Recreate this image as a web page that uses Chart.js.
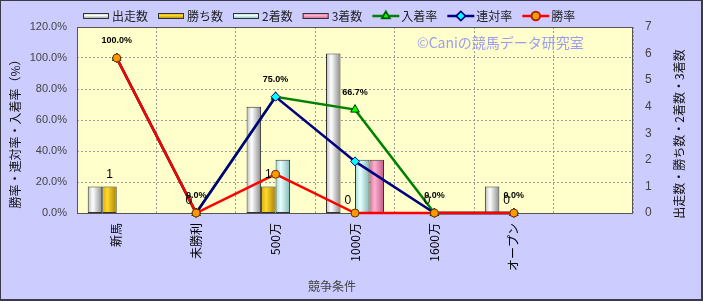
<!DOCTYPE html>
<html>
<head>
<meta charset="utf-8">
<script src="https://cdn.jsdelivr.net/npm/chart.js@4.4.1/dist/chart.umd.min.js"></script>
<style>
  html, body { margin: 0; padding: 0; background: #ccccff; }
  canvas { display: block; }
</style>
</head>
<body>
<canvas id="chart" width="703" height="301" style="width:703px;height:301px"></canvas>
<script>
// データ
const categories = ['新馬', '未勝利', '500万', '1000万', '1600万', 'オープン', ''];
const starts   = [1, 0, 4, 6, 0, 1, null];   // 出走数
const wins     = [1, 0, 1, 0, 0, 0, null];   // 勝ち数
const seconds  = [0, 0, 2, 2, 0, 0, null];   // 2着数
const thirds   = [0, 0, 0, 2, 0, 0, null];   // 3着数
const placeRate  = [100, 0, 75, 66.7, 0, 0, null]; // 入着率
const rentaiRate = [100, 0, 75, 33.3, 0, 0, null]; // 連対率
const winRate    = [100, 0, 25, 0, 0, 0, null];    // 勝率
const rateTicks  = [0, 20, 40, 60, 80, 100, 120];
const countTicks = [0, 1, 2, 3, 4, 5, 6, 7];

const FONT = '"Liberation Sans", "Noto Sans CJK JP", sans-serif';
const JFONT = '"Noto Sans CJK JP", "Liberation Sans", sans-serif';
const GROUP = 0.73;

const barStops = [
  ['#b8b8b8', '#ffffff', '#8a8a8a'],
  ['#d9a900', '#ffd92e', '#a88200'],
  ['#9fd6d6', '#e8ffff', '#80b8b8'],
  ['#d9709e', '#ffb0d0', '#c05a8a']
];

// 円柱っぽい横グラデーション
function cylinder(c, k) {
  const s = barStops[k];
  const chart = c.chart;
  const xs = chart.scales.x;
  if (!xs || c.dataIndex == null || !xs.width) return s[1];
  const catW = xs.width / categories.length;
  const bw = catW * GROUP / 4;
  const x0 = xs.getPixelForValue(c.dataIndex) - catW * GROUP / 2 + k * bw;
  const g = chart.ctx.createLinearGradient(x0, 0, x0 + bw, 0);
  g.addColorStop(0, s[0]);
  g.addColorStop(0.35, s[1]);
  g.addColorStop(1, s[2]);
  return g;
}

function barSet(label, data, k) {
  return {
    type: 'bar', label, data, yAxisID: 'y2', order: 10,
    backgroundColor: c => cylinder(c, k),
    borderColor: '#333',
    borderWidth: c => (c.raw ? 1 : 0),
    borderSkipped: false,
    barPercentage: 1, categoryPercentage: GROUP
  };
}

function lineSet(label, data, color, style, radius, fill, edge, order) {
  return {
    type: 'line', label, data, yAxisID: 'y', order,
    borderColor: color, borderWidth: 2.5, tension: 0, clip: false,
    pointStyle: style, pointRadius: radius, pointBackgroundColor: fill,
    pointBorderColor: edge, pointBorderWidth: 1
  };
}

const legendItems = [
  { label: '出走数', bar: 0 },
  { label: '勝ち数', bar: 1 },
  { label: '2着数', bar: 2 },
  { label: '3着数', bar: 3 },
  { label: '入着率', line: '#008000', style: 'triangle', fill: '#00ff00', edge: '#003300' },
  { label: '連対率', line: '#000080', style: 'rectRot', fill: '#00ffff', edge: '#000080' },
  { label: '勝率', line: '#ff0000', style: 'circle', fill: '#ff9900', edge: '#663300' }
];

const decor = {
  id: 'decor',
  beforeDraw(chart) {
    const { ctx, chartArea: a } = chart;
    ctx.save();
    ctx.fillStyle = '#ccccff';
    ctx.fillRect(0, 0, chart.width, chart.height);
    ctx.fillStyle = '#ffffcc';
    ctx.fillRect(a.left, a.top, a.right - a.left, a.bottom - a.top);
    ctx.restore();
  },
  beforeDatasetsDraw(chart) {
    const { ctx, chartArea: a } = chart;
    ctx.save();
    ctx.strokeStyle = '#555';
    ctx.lineWidth = 1;
    ctx.strokeRect(Math.round(a.left) + 0.5, Math.round(a.top) + 0.5,
      Math.round(a.right - a.left) - 1, Math.round(a.bottom - a.top));
    // 透かし
    ctx.fillStyle = '#9d9df0';
    ctx.font = '14px ' + JFONT;
    ctx.textAlign = 'left';
    ctx.textBaseline = 'middle';
    ctx.fillText('©Caniの競馬データ研究室', 417, 43);
    ctx.restore();
  },
  afterDatasetsDraw(chart) {
    const ctx = chart.ctx;
    ctx.save();
    ctx.fillStyle = '#000';
    ctx.textAlign = 'center';
    ctx.textBaseline = 'middle';
    const mw = chart.getDatasetMeta(1);
    ctx.font = '12px ' + FONT;
    wins.forEach((v, i) => {
      if (v == null) return;
      const el = mw.data[i];
      ctx.fillText(String(v), el.x, el.y - 12);
    });
    const mp = chart.getDatasetMeta(4);
    ctx.font = 'bold 9px ' + FONT;
    placeRate.forEach((v, i) => {
      if (v == null) return;
      const el = mp.data[i];
      ctx.fillText(v.toFixed(1) + '%', el.x, el.y - 17);
    });
    ctx.restore();
  },
  afterDraw(chart) {
    const ctx = chart.ctx;
    const W = chart.width, H = chart.height;
    ctx.save();
    // 軸タイトル
    ctx.fillStyle = '#111';
    ctx.font = '12px ' + JFONT;
    ctx.textAlign = 'center';
    ctx.textBaseline = 'middle';
    ctx.save();
    ctx.translate(15, 131);
    ctx.rotate(-Math.PI / 2);
    ctx.fillText('勝率・連対率・入着率（%）', 0, 0);
    ctx.restore();
    ctx.save();
    ctx.translate(679, 134);
    ctx.rotate(-Math.PI / 2);
    ctx.fillText('出走数・勝ち数・2着数・3着数', 0, 0);
    ctx.restore();
    ctx.fillStyle = '#444';
    ctx.fillText('競争条件', 332, 286);

    // 凡例
    ctx.font = '12px ' + JFONT;
    ctx.textAlign = 'left';
    let x = 83;
    const y = 16;
    legendItems.forEach(it => {
      if (it.bar != null) {
        const s = barStops[it.bar];
        const g = ctx.createLinearGradient(0, y - 3, 0, y + 3);
        g.addColorStop(0, s[0]); g.addColorStop(0.4, s[1]); g.addColorStop(1, s[2]);
        ctx.fillStyle = g;
        ctx.fillRect(x, y - 3, 26, 6);
        ctx.strokeStyle = '#333';
        ctx.lineWidth = 1;
        ctx.strokeRect(x + 0.5, y - 2.5, 25, 5);
      } else {
        ctx.strokeStyle = it.line;
        ctx.lineWidth = 2.5;
        ctx.beginPath();
        ctx.moveTo(x, y); ctx.lineTo(x + 27, y);
        ctx.stroke();
        Chart.helpers.drawPoint(ctx, {
          pointStyle: it.style, radius: 4, borderWidth: 1, rotation: 0
        }, x + 13.5, y);
        ctx.fillStyle = it.fill;
        ctx.strokeStyle = it.edge;
        ctx.lineWidth = 1;
        ctx.fill();
        ctx.stroke();
      }
      ctx.fillStyle = '#222';
      ctx.fillText(it.label, x + 29, y);
      x += 29 + ctx.measureText(it.label).width + 10;
    });

    // 外枠
    ctx.fillStyle = '#3a3a4a';
    ctx.fillRect(0, 0, W, 1);
    ctx.fillRect(0, 0, 1, H);
    ctx.fillRect(W - 2, 0, 2, H);
    ctx.fillRect(0, H - 2, W, 2);
    ctx.restore();
  }
};

new Chart(document.getElementById('chart'), {
  data: {
    labels: categories,
    datasets: [
      barSet('出走数', starts, 0),
      barSet('勝ち数', wins, 1),
      barSet('2着数', seconds, 2),
      barSet('3着数', thirds, 3),
      lineSet('入着率', placeRate, '#008000', 'triangle', 5, '#00ff00', '#003300', 2),
      lineSet('連対率', rentaiRate, '#000080', 'rectRot', 4.5, '#00ffff', '#000080', 1),
      lineSet('勝率', winRate, '#ff0000', 'circle', 4, '#ff9900', '#663300', 0)
    ]
  },
  options: {
    responsive: false,
    animation: false,
    layout: { padding: { top: 27, left: 0, right: 0, bottom: 0 } },
    plugins: { legend: { display: false }, tooltip: { enabled: false } },
    scales: {
      x: {
        type: 'category',
        offset: true,
        grid: { offset: true, color: '#9a9a9a', drawTicks: false },
        border: { display: false, dash: [2, 2] },
        ticks: {
          autoSkip: false, minRotation: 90, maxRotation: 90, padding: 10,
          color: '#000', font: { family: JFONT, size: 12 }
        },
        afterFit: s => { s.height = 88; }
      },
      y: {
        position: 'left',
        min: 0, max: 120,
        afterBuildTicks: s => { s.ticks = rateTicks.map(v => ({ value: v })); },
        grid: { color: '#9a9a9a', drawTicks: false },
        border: { display: false, dash: [2, 2] },
        ticks: {
          padding: 10, color: '#444', font: { family: FONT, size: 11 },
          callback: v => v.toFixed(1) + '%'
        },
        afterFit: s => { s.width = 77; }
      },
      y2: {
        position: 'right',
        min: 0, max: 7,
        afterBuildTicks: s => { s.ticks = countTicks.map(v => ({ value: v })); },
        grid: { display: false, drawTicks: false },
        border: { display: false },
        ticks: { padding: 12, color: '#444', font: { family: FONT, size: 12 } },
        afterFit: s => { s.width = 70; }
      }
    }
  },
  plugins: [decor]
});
</script>
</body>
</html>
